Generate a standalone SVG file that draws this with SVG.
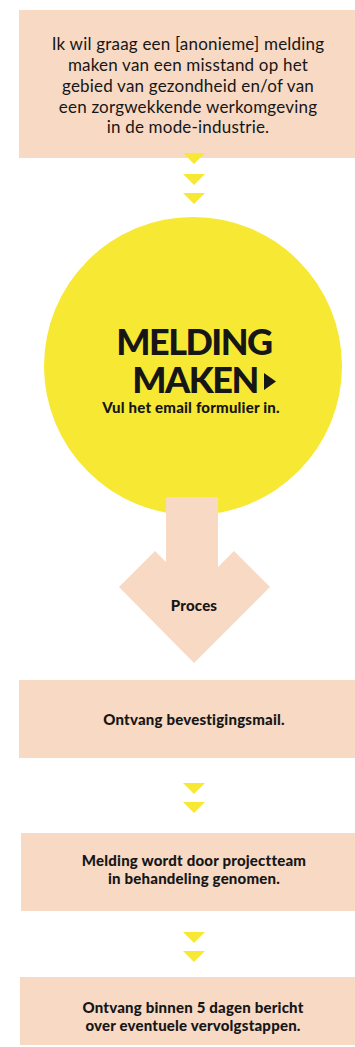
<svg xmlns="http://www.w3.org/2000/svg" width="355" height="1047" viewBox="0 0 355 1047">
<style>
.box{fill:#F7D9C4}
.tri{fill:#F7E833}
.t{font-family:Lato,"Liberation Sans",sans-serif;fill:#161616;text-anchor:middle}
.r{font-size:17px;letter-spacing:0.2px}
.b{font-size:15px;font-weight:900;letter-spacing:0.2px}
.big{font-size:36px;font-weight:900;letter-spacing:-1.5px}
</style>
<defs>
<polygon id="dn" class="tri" points="-11,0 11,0 0,11"/>
</defs>
<g id="n1">
<rect class="box" x="19" y="10" width="336" height="148"/>
<text class="t r" x="188" y="50">Ik wil graag een [anonieme] melding</text>
<text class="t r" x="188" y="71">maken van een misstand op het</text>
<text class="t r" x="188" y="92">gebied van gezondheid en/of van</text>
<text class="t r" x="188" y="113">een zorgwekkende werkomgeving</text>
<text class="t r" x="188" y="133">in de mode-industrie.</text>
</g>
<g id="n2">
<circle cx="193" cy="366" r="149" fill="#F7E833"/>
<text class="t big" x="194" y="355">MELDING</text>
<text class="t big" x="195" y="393">MAKEN</text>
<polygon points="264,373 276,381.5 264,390" fill="#161616"/>
<text class="t b" x="191" y="413">Vul het email formulier in.</text>
</g>
<g id="n3">
<polygon class="box" points="166,497 218,497 218,567 234,551 270,587 194,663 119,587 155,551 166,562"/>
<text class="t b" x="194" y="611">Proces</text>
</g>
<g id="n4">
<rect class="box" x="19" y="680" width="336" height="78"/>
<text class="t b" x="194" y="725">Ontvang bevestigingsmail.</text>
</g>
<g id="n5">
<rect class="box" x="21" y="833" width="334" height="78"/>
<text class="t b" x="194" y="866">Melding wordt door projectteam</text>
<text class="t b" x="194" y="884">in behandeling genomen.</text>
</g>
<g id="n6">
<rect class="box" x="20" y="977" width="335" height="68"/>
<text class="t b" x="193" y="1013">Ontvang binnen 5 dagen bericht</text>
<text class="t b" x="193" y="1031">over eventuele vervolgstappen.</text>
</g>
<g id="connectors">
<use href="#dn" x="194" y="153"/>
<use href="#dn" x="194" y="174"/>
<use href="#dn" x="194" y="193"/>
<use href="#dn" x="194" y="783"/>
<use href="#dn" x="194" y="802"/>
<use href="#dn" x="194" y="932"/>
<use href="#dn" x="194" y="951"/>
</g>
</svg>
